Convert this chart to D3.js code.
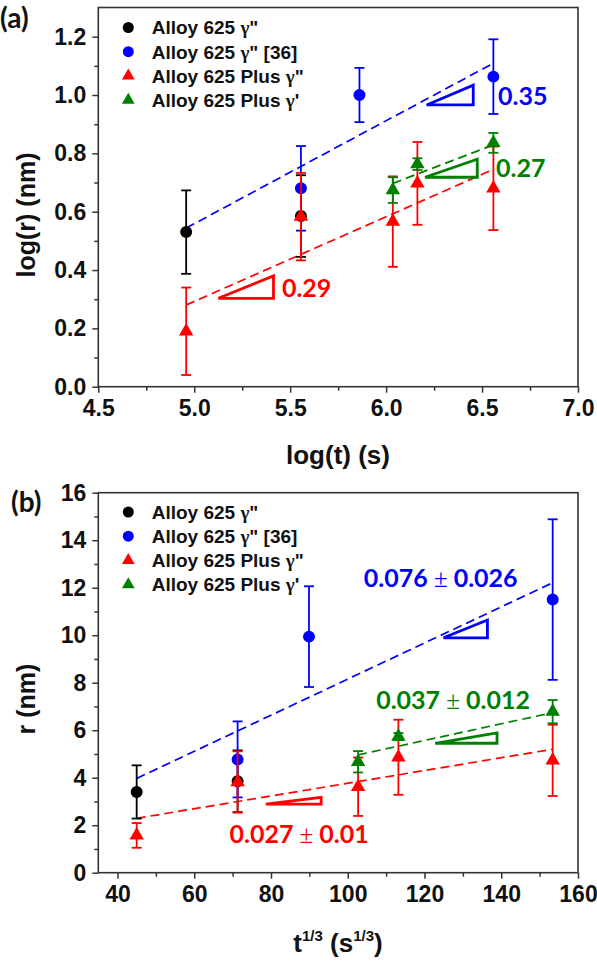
<!DOCTYPE html>
<html>
<head>
<meta charset="utf-8">
<script src="https://cdn.jsdelivr.net/npm/d3@7"></script>
<style>
  body { margin: 0; background: #fff; }
  svg text { font-family: "Liberation Sans", Arial, sans-serif; font-weight: bold; fill: #111; }
  .tick line { stroke: #333; stroke-width: 1.5; }
  .tick text { font-size: 23px; font-family: "Liberation Sans", Arial, sans-serif; font-weight: bold; }
</style>
</head>
<body>
<div id="chart"></div>
<script>
// legend entries, shared by both panels
const seriesNames = ['Alloy 625 γ"', 'Alloy 625 γ" [36]', 'Alloy 625 Plus γ"', "Alloy 625 Plus γ'"];
const seriesColors = ["#000000", "#0000ff", "#ff0000", "#008000"];
const seriesShapes = ["circle", "circle", "triangle", "triangle"];

// ---- panel (a): log(r) vs log(t)
const aXTicks = [4.5, 5.0, 5.5, 6.0, 6.5, 7.0];
const aXMinor = [4.75, 5.25, 5.75, 6.25, 6.75];
const aYTicks = [0.0, 0.2, 0.4, 0.6, 0.8, 1.0, 1.2];
const aYMinor = [0.1, 0.3, 0.5, 0.7, 0.9, 1.1];

const aBlackX = [4.958, 5.556];
const aBlackY = [0.53, 0.585];
const aBlackErr = [0.143, 0.14];
const aBlueX = [5.556, 5.861, 6.559];
const aBlueY = [0.68, 1.0, 1.063];
const aBlueErr = [0.145, 0.093, 0.128];
const aRedX = [4.958, 5.556, 6.035, 6.163, 6.559];
const aRedY = [0.19, 0.583, 0.566, 0.697, 0.68];
const aRedErr = [0.15, 0.15, 0.155, 0.142, 0.143];
const aGreenX = [6.035, 6.163, 6.559];
const aGreenY = [0.674, 0.763, 0.836];
const aGreenErr = [0.044, 0.02, 0.034];

// dashed fits
const aFitBlueX = [4.958, 6.559], aFitBlueY = [0.544, 1.109];
const aFitRedX = [4.958, 6.559], aFitRedY = [0.28, 0.745];
const aFitGreenX = [6.035, 6.559], aFitGreenY = [0.697, 0.829];

// slope wedges [x0,x1], [y0,y1]
const aWedgeBlueX = [6.211, 6.454], aWedgeBlueY = [0.966, 1.034];
const aWedgeGreenX = [6.203, 6.475], aWedgeGreenY = [0.718, 0.780];
const aWedgeRedX = [5.126, 5.413], aWedgeRedY = [0.303, 0.380];

const aSlopeText = ["0.35", "0.27", "0.29"];
const aSlopeTextX = [6.583, 6.573, 5.457];
const aSlopeTextY = [0.966, 0.72, 0.306];

// ---- panel (b): r vs t^1/3
const bXTicks = [40, 60, 80, 100, 120, 140, 160];
const bXMinor = [50, 70, 90, 110, 130, 150];
const bYTicks = [0, 2, 4, 6, 8, 10, 12, 14, 16];
const bYMinor = [1, 3, 5, 7, 9, 11, 13, 15];

const bBlackX = [45, 71.3];
const bBlackY = [3.4, 3.85];
const bBlackErr = [1.12, 1.3];
const bBlueX = [71.3, 89.9, 153.4];
const bBlueY = [4.77, 9.94, 11.5];
const bBlueErr = [1.6, 2.12, 3.38];
const bRedX = [45, 71.3, 102.7, 113.2, 153.4];
const bRedY = [1.57, 3.82, 3.62, 4.86, 4.73];
const bRedErr = [0.52, 1.29, 1.23, 1.58, 1.5];
const bGreenX = [102.7, 113.2, 153.4];
const bGreenY = [4.67, 5.73, 6.78];
const bGreenErr = [0.45, 0.15, 0.49];

const bFitBlueX = [45, 153.4], bFitBlueY = [3.97, 12.21];
const bFitRedX = [45, 153.4], bFitRedY = [2.29, 5.2];
const bFitGreenX = [102.7, 153.4], bFitGreenY = [4.96, 6.74];

const bWedgeBlueX = [124.96, 136.4], bWedgeBlueY = [9.89, 10.64];
const bWedgeGreenX = [122.8, 138.9], bWedgeGreenY = [5.45, 5.89];
const bWedgeRedX = [78.65, 93.07], bWedgeRedY = [2.89, 3.17];

const bSlopeText = ["0.076 ± 0.026", "0.037 ± 0.012", "0.027 ± 0.01"];
const bSlopeTextX = [104.2, 107.4, 69.2];
const bSlopeTextY = [12.04, 6.88, 1.26];


const W = 597, H = 962;
const svg = d3.select("#chart").append("svg")
  .attr("width", W).attr("height", H)
  .attr("viewBox", `0 0 ${W} ${H}`);
svg.append("rect").attr("width", W).attr("height", H).attr("fill", "#fff");

const zip = (xs, ys) => xs.map((v, i) => [v, ys[i]]);

const panels = [
  {
    tag: "(a)", tagX: 0, tagY: 28,
    xDomain: [4.5, 7.0], yDomain: [0, 1.3], yRange: [386.7, 7.5],
    xTicks: aXTicks, xMinor: aXMinor, yTicks: aYTicks, yMinor: aYMinor,
    xFmt: d3.format(".1f"), yFmt: d3.format(".1f"),
    series: [
      { x: aBlackX, y: aBlackY, e: aBlackErr },
      { x: aBlueX, y: aBlueY, e: aBlueErr },
      { x: aRedX, y: aRedY, e: aRedErr },
      { x: aGreenX, y: aGreenY, e: aGreenErr }
    ],
    fits: [[aFitBlueX, aFitBlueY, 1], [aFitRedX, aFitRedY, 2], [aFitGreenX, aFitGreenY, 3]],
    wedges: [[aWedgeBlueX, aWedgeBlueY, 1], [aWedgeGreenX, aWedgeGreenY, 3], [aWedgeRedX, aWedgeRedY, 2]],
    notes: { text: aSlopeText, x: aSlopeTextX, y: aSlopeTextY, c: [1, 3, 2] },
    legendY: 27.5,
    yLabel: "log(r) (nm)", yLabelY: 215,
    xLabelY: 464
  },
  {
    tag: "(b)", tagX: 11, tagY: 512,
    xDomain: [35, 160], yDomain: [0, 16], yRange: [872.7, 492.7],
    xTicks: bXTicks, xMinor: bXMinor, yTicks: bYTicks, yMinor: bYMinor,
    xFmt: d3.format("d"), yFmt: d3.format("d"),
    series: [
      { x: bBlackX, y: bBlackY, e: bBlackErr },
      { x: bBlueX, y: bBlueY, e: bBlueErr },
      { x: bRedX, y: bRedY, e: bRedErr },
      { x: bGreenX, y: bGreenY, e: bGreenErr }
    ],
    fits: [[bFitBlueX, bFitBlueY, 1], [bFitRedX, bFitRedY, 2], [bFitGreenX, bFitGreenY, 3]],
    wedges: [[bWedgeBlueX, bWedgeBlueY, 1], [bWedgeGreenX, bWedgeGreenY, 3], [bWedgeRedX, bWedgeRedY, 2]],
    notes: { text: bSlopeText, x: bSlopeTextX, y: bSlopeTextY, c: [1, 3, 2] },
    legendY: 512,
    yLabel: "r (nm)", yLabelY: 699,
    xLabelY: 951.5
  }
];

const symbolFor = (shape, size) => d3.symbol()
  .type(shape === "circle" ? d3.symbolCircle : d3.symbolTriangle)
  .size(size)();

function drawPanel(p, idx) {
  const x = d3.scaleLinear().domain(p.xDomain).range([98.3, 578]);
  const y = d3.scaleLinear().domain(p.yDomain).range(p.yRange);
  const g = svg.append("g").attr("class", "panel-" + idx);
  const y0 = y.range()[0], y1 = y.range()[1];

  // axes: major + minor ticks, then the box
  g.append("g").attr("transform", `translate(0,${y0})`)
    .call(d3.axisBottom(x).tickValues(p.xTicks).tickSize(6).tickPadding(7).tickSizeOuter(0).tickFormat(p.xFmt))
    .call(a => a.select(".domain").remove());
  g.append("g").attr("transform", `translate(0,${y0})`)
    .call(d3.axisBottom(x).tickValues(p.xMinor).tickSize(4).tickSizeOuter(0).tickFormat(""))
    .call(a => a.select(".domain").remove());
  g.append("g").attr("transform", `translate(${x.range()[0]},0)`)
    .call(d3.axisLeft(y).tickValues(p.yTicks).tickSize(6).tickPadding(6).tickSizeOuter(0).tickFormat(p.yFmt))
    .call(a => a.select(".domain").remove());
  g.append("g").attr("transform", `translate(${x.range()[0]},0)`)
    .call(d3.axisLeft(y).tickValues(p.yMinor).tickSize(4).tickSizeOuter(0).tickFormat(""))
    .call(a => a.select(".domain").remove());
  g.selectAll(".tick text").attr("fill", "#111");

  g.append("rect")
    .attr("x", x.range()[0]).attr("y", y1)
    .attr("width", x.range()[1] - x.range()[0]).attr("height", y0 - y1)
    .attr("fill", "none").attr("stroke", "#333").attr("stroke-width", 1.6);

  // dashed fits
  const line = d3.line().x(d => x(d[0])).y(d => y(d[1]));
  p.fits.forEach(([fx, fy, c]) => {
    g.append("path").datum(zip(fx, fy))
      .attr("d", line).attr("fill", "none")
      .attr("stroke", seriesColors[c]).attr("stroke-width", 1.7)
      .attr("stroke-dasharray", "9,5");
  });

  // slope wedges
  p.wedges.forEach(([wx, wy, c]) => {
    const pts = [[wx[0], wy[0]], [wx[1], wy[0]], [wx[1], wy[1]]];
    g.append("path").datum(pts)
      .attr("d", d => line(d) + "Z")
      .attr("fill", "none").attr("stroke", seriesColors[c])
      .attr("stroke-width", 2.8).attr("stroke-linejoin", "miter");
  });

  // error bars + markers
  p.series.forEach((s, si) => {
    const col = seriesColors[si];
    const pts = s.x.map((v, i) => ({ x: v, y: s.y[i], e: s.e[i] }));
    const eb = g.append("g").attr("stroke", col).attr("stroke-width", 1.8).attr("fill", "none");
    pts.forEach(d => {
      const cx = x(d.x), top = y(d.y + d.e), bot = y(d.y - d.e);
      eb.append("line").attr("x1", cx).attr("x2", cx).attr("y1", top).attr("y2", bot);
      eb.append("line").attr("x1", cx - 5).attr("x2", cx + 5).attr("y1", top).attr("y2", top);
      eb.append("line").attr("x1", cx - 5).attr("x2", cx + 5).attr("y1", bot).attr("y2", bot);
    });
    g.append("g").selectAll("path").data(pts).join("path")
      .attr("d", symbolFor(seriesShapes[si], seriesShapes[si] === "circle" ? 113 : 90))
      .attr("transform", d => `translate(${x(d.x)},${y(d.y)})`)
      .attr("fill", col);
  });

  // slope labels
  p.notes.text.forEach((t, i) => {
    const parts = t.split("±");
    const txt = g.append("text")
      .attr("x", x(p.notes.x[i])).attr("y", y(p.notes.y[i]))
      .style("font-family", "Lato, 'Open Sans', sans-serif")
      .style("font-size", "25px")
      .attr("fill", seriesColors[p.notes.c[i]]);
    txt.append("tspan").text(parts[0]).style("fill", seriesColors[p.notes.c[i]]);
    if (parts.length > 1) {
      txt.append("tspan").text("±")
        .style("font-family", "'Liberation Serif', serif").style("font-weight", "normal")
        .style("fill", seriesColors[p.notes.c[i]]);
      txt.append("tspan").text(parts[1]).style("fill", seriesColors[p.notes.c[i]]);
    }
  });

  // legend
  const leg = g.append("g").attr("class", "legend");
  seriesNames.forEach((name, i) => {
    const ly = p.legendY + i * 24.2;
    leg.append("path")
      .attr("d", symbolFor(seriesShapes[i], seriesShapes[i] === "circle" ? 95 : 70))
      .attr("transform", `translate(128.3,${ly})`)
      .attr("fill", seriesColors[i]);
    const t = leg.append("text").attr("x", 151.7).attr("y", ly).attr("dy", "0.36em")
      .style("font-size", "19px");
    const bits = name.split("γ");
    t.append("tspan").text(bits[0]);
    t.append("tspan").text("γ").style("font-family", "'Liberation Serif', serif");
    t.append("tspan").text(bits[1]);
  });

  // panel tag
  svg.append("text").attr("x", p.tagX).attr("y", p.tagY)
    .style("font-family", "Lato, 'Open Sans', sans-serif").style("font-size", "28px")
    .text(p.tag);

  // y label
  svg.append("text")
    .attr("transform", `translate(35,${p.yLabelY}) rotate(-90)`)
    .attr("text-anchor", "middle")
    .style("font-size", "25px")
    .text(p.yLabel);

  return { x, y };
}

panels.forEach(drawPanel);

// x labels
svg.append("text").attr("x", 338).attr("y", panels[0].xLabelY)
  .attr("text-anchor", "middle").style("font-size", "26px")
  .text("log(t) (s)");

const xl = svg.append("text").attr("x", 338).attr("y", panels[1].xLabelY)
  .attr("text-anchor", "middle").style("font-size", "26px");
xl.append("tspan").text("t");
xl.append("tspan").attr("dy", -11).style("font-size", "15px").text("1/3");
xl.append("tspan").attr("dy", 11).text(" (s");
xl.append("tspan").attr("dy", -11).style("font-size", "15px").text("1/3");
xl.append("tspan").attr("dy", 11).text(")");
</script>
</body>
</html>
